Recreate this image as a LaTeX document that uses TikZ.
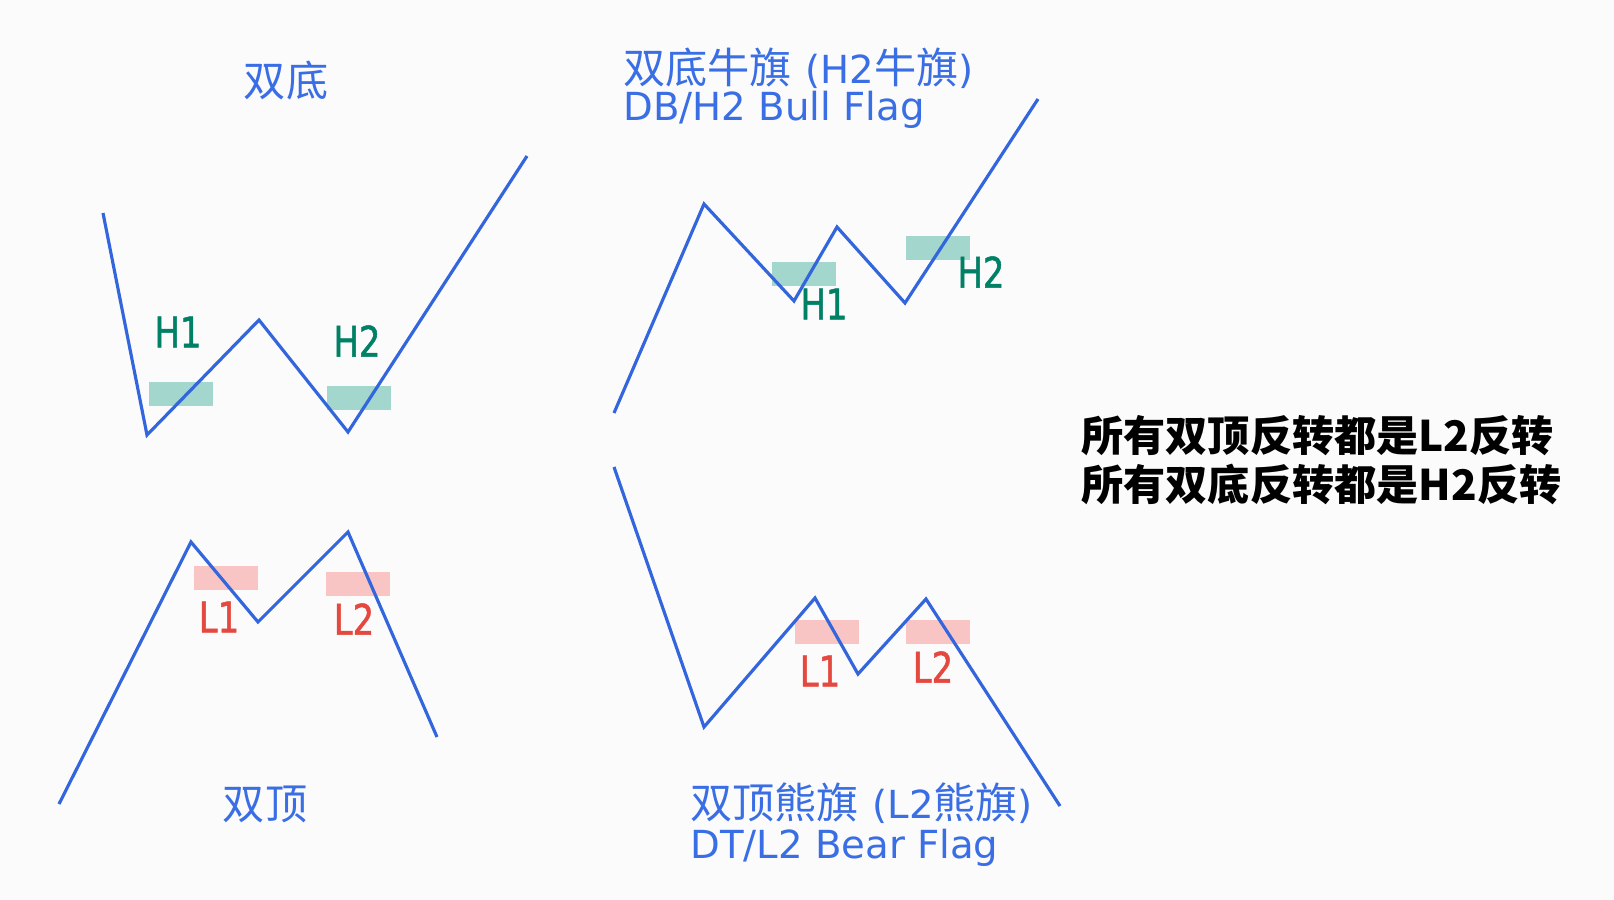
\documentclass[tikz,border=0pt]{standalone}
\usepackage{fontspec}
\setmainfont{DejaVu Sans}
\newfontfamily\cjk{Noto Sans CJK SC}
\newfontfamily\labelfont{DejaVu Sans}[FakeStretch=0.8,FakeBold=1.2]
\usetikzlibrary{positioning}
\definecolor{trendblue}{RGB}{51,102,221}
\definecolor{titleblue}{RGB}{58,110,228}
\definecolor{hzone}{RGB}{163,214,204}
\definecolor{htext}{RGB}{0,128,100}
\definecolor{lzone}{RGB}{248,196,196}
\definecolor{ltext}{RGB}{228,72,62}
\definecolor{paper}{RGB}{251,251,251}

\begin{document}
\begin{tikzpicture}[x=0.02cm,y=-0.02cm,
  trend/.style={draw=trendblue,line width=1.8pt,line join=miter},
  title/.style={text=titleblue,font=\fontsize{24}{24}\selectfont,inner sep=0pt},
  flagtitle/.style={title,anchor=west},
  flagname/.style={title,anchor=west,font=\fontsize{22}{22}\selectfont},
  hlabel/.style={text=htext,font=\labelfont\fontsize{24}{24}\selectfont,inner sep=0pt},
  llabel/.style={text=ltext,font=\labelfont\fontsize{24}{24}\selectfont,inner sep=0pt}]

\fill[paper] (0,0) rectangle (1614,900);
\useasboundingbox (0,0) rectangle (1614,900);

\coordinate (db1) at (103,213);
\coordinate (db2) at (147,435);
\coordinate (db3) at (259,320);
\coordinate (db4) at (348,432);
\coordinate (db5) at (527,156);

\coordinate (dt1) at (59,804);
\coordinate (dt2) at (191,542);
\coordinate (dt3) at (258,622);
\coordinate (dt4) at (348,532);
\coordinate (dt5) at (437,737);

\coordinate (bf1) at (614,413);
\coordinate (bf2) at (704,204);
\coordinate (bf3) at (794,301);
\coordinate (bf4) at (837,227);
\coordinate (bf5) at (905,303);
\coordinate (bf6) at (1038,99);

\coordinate (br1) at (614,467);
\coordinate (br2) at (704,727);
\coordinate (br3) at (815,598);
\coordinate (br4) at (858,674);
\coordinate (br5) at (926,599);
\coordinate (br6) at (1060,806);

\foreach \x/\y in {149/382,327/386,772/262,906/236}
{\fill[hzone] (\x,\y) rectangle ++(64,24);}

\foreach \x/\y in {194/566,326/572,795/620,906/620}
{\fill[lzone] (\x,\y) rectangle ++(64,24);}

\draw[trend] (db1) -- (db2) -- (db3) -- (db4) -- (db5);
\draw[trend] (dt1) -- (dt2) -- (dt3) -- (dt4) -- (dt5);
\draw[trend] (bf1) -- (bf2) -- (bf3) -- (bf4) -- (bf5) -- (bf6);
\draw[trend] (br1) -- (br2) -- (br3) -- (br4) -- (br5) -- (br6);

\node[title] (dbtitle) at (286,80) {\cjk 双底};
\node[title] (dttitle) at (265,804) {\cjk 双顶};
\node[flagtitle] (bftitle) at (623,68) {{\cjk 双底牛旗} {\fontsize{22}{22}\selectfont(H2}{\cjk 牛旗}{\fontsize{22}{22}\selectfont)}};
\node[flagname] (bfname) at (623,110) {DB/H2 Bull Flag};
\node[flagtitle] (brtitle) at (690,803) {{\cjk 双顶熊旗} {\fontsize{22}{22}\selectfont(L2}{\cjk 熊旗}{\fontsize{22}{22}\selectfont)}};
\node[flagname] (brname) at (690,848) {DT/L2 Bear Flag};

\node[hlabel] (dbh1) at (178,332) {H1};
\node[hlabel] (dbh2) at (357,341) {H2};
\node[hlabel] (bfh1) at (824,304) {H1};
\node[hlabel] (bfh2) at (981,272) {H2};

\node[llabel] (dtl1) at (219,617) {L1};
\node[llabel] (dtl2) at (354,619) {L2};
\node[llabel] (brl1) at (820,671) {L1};
\node[llabel] (brl2) at (933,667) {L2};

\node[anchor=west,align=left,inner sep=0pt,font=\cjk\bfseries\fontsize{24}{28}\selectfont] (rule) at (1081,460)
  {所有双顶反转都是L2反转\\所有双底反转都是H2反转};

\end{tikzpicture}
\end{document}
